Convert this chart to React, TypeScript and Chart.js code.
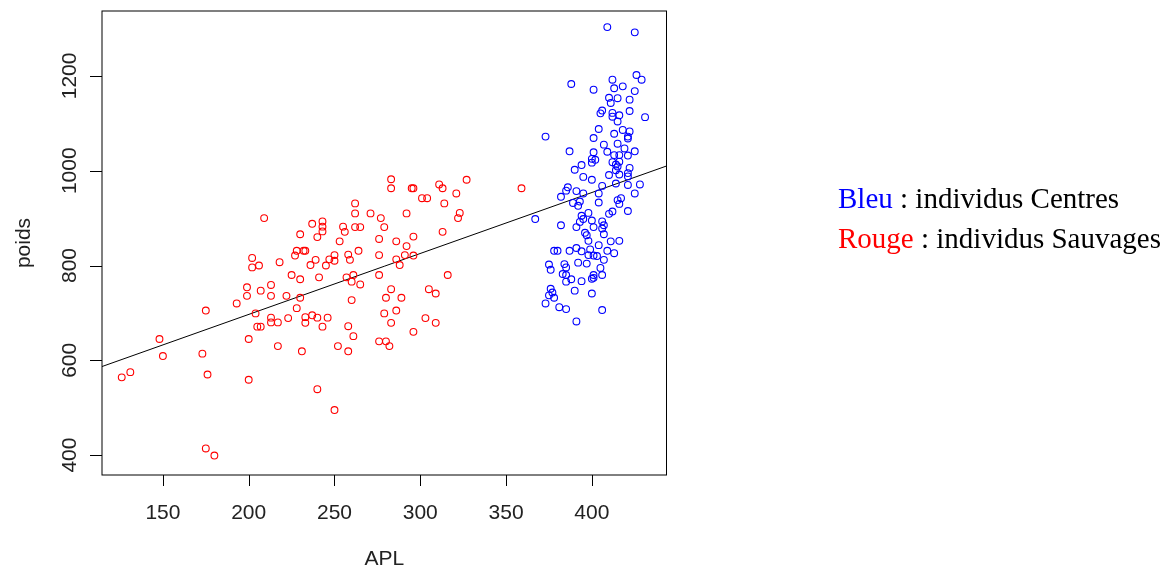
import React, { useEffect, useRef } from "react";
import { Chart, registerables } from "chart.js";

Chart.register(...registerables);

// Rouge : individus Sauvages
const redAPL = [126, 131, 148, 150, 173, 176, 175, 180, 200, 200, 175, 193, 199, 199, 207, 213, 213, 222, 204, 213, 223, 213, 217, 205, 207, 217, 228, 209, 202, 202, 206, 218, 225, 230, 230, 228, 232, 233, 227, 237, 243, 243, 243, 240, 239, 236, 245, 241, 247, 250, 250, 253, 255, 256, 262, 265, 262, 262, 271, 258, 259, 264, 257, 261, 260, 265, 276, 277, 279, 286, 296, 292, 292, 283, 283, 295, 296, 301, 304, 311, 313, 314, 321, 327, 323, 322, 313, 276, 291, 296, 286, 288, 276, 316, 283, 280, 289, 305, 309, 260, 230, 279, 286, 303, 309, 233, 237, 240, 246, 233, 243, 258, 261, 283, 296, 276, 280, 282, 231, 252, 258, 240, 250, 359];
const redPoids = [564, 575, 645, 609, 614, 570, 414, 399, 645, 559, 705, 720, 754, 736, 747, 759, 736, 736, 699, 690, 689, 680, 680, 671, 671, 630, 710, 900, 816, 796, 800, 807, 780, 771, 866, 831, 831, 831, 821, 888, 893, 882, 872, 860, 812, 801, 800, 775, 813, 822, 810, 851, 882, 871, 881, 881, 931, 910, 910, 823, 812, 831, 775, 780, 766, 760, 856, 900, 881, 851, 861, 841, 910, 982, 963, 963, 963, 942, 942, 971, 963, 931, 952, 981, 911, 900, 871, 822, 822, 821, 813, 801, 780, 780, 750, 732, 732, 750, 741, 727, 732, 699, 705, 689, 679, 691, 695, 690, 690, 679, 671, 672, 651, 679, 660, 640, 640, 630, 619, 630, 619, 539, 495, 963];

// Bleu : individus Centres
const blueAPL = [409, 425, 388, 401, 412, 413, 418, 426, 429, 425, 410, 415, 411, 422, 422, 406, 405, 412, 412, 416, 415, 431, 404, 401, 413, 418, 422, 421, 421, 373, 407, 415, 419, 425, 387, 401, 409, 413, 416, 421, 400, 402, 400, 412, 416, 414, 415, 394, 390, 422, 410, 416, 421, 421, 414, 395, 400, 414, 421, 428, 406, 386, 385, 391, 395, 382, 404, 425, 393, 389, 392, 404, 415, 417, 416, 421, 412, 410, 398, 394, 395, 393, 400, 406, 407, 406, 382, 391, 401, 396, 397, 398, 407, 416, 411, 404, 391, 378, 380, 387, 394, 399, 409, 413, 398, 401, 403, 407, 375, 376, 384, 385, 392, 397, 405, 383, 385, 385, 388, 394, 401, 401, 400, 406, 376, 377, 375, 378, 373, 390, 400, 381, 385, 406, 391, 367];
const bluePoids = [1303, 1292, 1183, 1171, 1192, 1174, 1178, 1202, 1192, 1168, 1154, 1153, 1143, 1150, 1126, 1127, 1121, 1122, 1114, 1117, 1104, 1113, 1088, 1069, 1078, 1086, 1083, 1072, 1068, 1072, 1055, 1057, 1047, 1041, 1041, 1039, 1040, 1033, 1033, 1032, 1025, 1023, 1017, 1018, 1019, 1013, 1009, 1012, 1002, 1006, 991, 992, 995, 988, 1001, 987, 981, 973, 970, 971, 968, 965, 958, 957, 952, 945, 952, 952, 935, 932, 926, 933, 938, 942, 930, 915, 914, 909, 911, 905, 898, 892, 895, 893, 885, 878, 885, 881, 881, 869, 864, 852, 866, 852, 851, 843, 837, 831, 831, 831, 830, 834, 831, 826, 822, 821, 820, 812, 802, 791, 803, 796, 806, 804, 795, 782, 780, 766, 771, 767, 780, 774, 772, 780, 751, 743, 737, 732, 720, 747, 741, 712, 708, 706, 682, 898];

const xTicks = [150, 200, 250, 300, 350, 400];
const yTicks = [400, 600, 800, 1000, 1200];
const xRange = [114.5, 443.5];
const yRange = [358, 1337];
const lineIntercept = 439.6;
const lineSlope = 1.286;
const xTitle = "APL";
const yTitle = "poids";

const axesPlugin = {
  id: "rAxes",
  afterDraw(chart: any) {
    const { ctx, chartArea } = chart;
    const xs = chart.scales.x;
    const ys = chart.scales.y;
    const { left, right, top, bottom } = chartArea;
    ctx.save();
    ctx.strokeStyle = "#000";
    ctx.lineWidth = 1;
    ctx.strokeRect(left, top, right - left, bottom - top);
    ctx.fillStyle = "#222";
    ctx.font = '21px "Liberation Sans", Arial, sans-serif';
    // x ticks
    ctx.beginPath();
    xTicks.forEach((v) => {
      const px = Math.round(xs.getPixelForValue(v)) + 0.5;
      ctx.moveTo(px, bottom);
      ctx.lineTo(px, bottom + 11);
    });
    const yb = Math.round(bottom) + 0.5;
    ctx.stroke();
    ctx.textAlign = "center";
    ctx.textBaseline = "alphabetic";
    xTicks.forEach((v) => {
      ctx.fillText(String(v), xs.getPixelForValue(v), 519);
    });
    // y ticks
    ctx.beginPath();
    yTicks.forEach((v) => {
      const py = Math.round(ys.getPixelForValue(v)) + 0.5;
      ctx.moveTo(left, py);
      ctx.lineTo(left - 12, py);
    });
    ctx.stroke();
    yTicks.forEach((v) => {
      ctx.save();
      ctx.translate(76, ys.getPixelForValue(v));
      ctx.rotate(-Math.PI / 2);
      ctx.textAlign = "center";
      ctx.fillText(String(v), 0, 0);
      ctx.restore();
    });
    // titles
    ctx.textAlign = "center";
    ctx.fillText(xTitle, (left + right) / 2, 565);
    ctx.save();
    ctx.translate(30, (top + bottom) / 2);
    ctx.rotate(-Math.PI / 2);
    ctx.fillText(yTitle, 0, 0);
    ctx.restore();
    ctx.restore();
    void yb;
  },
};

function App() {
  const canvasRef = useRef<HTMLCanvasElement | null>(null);

  useEffect(() => {
    const canvas = canvasRef.current;
    if (!canvas) return;
    const toPts = (xa: number[], ya: number[]) => xa.map((x, i) => ({ x, y: ya[i] }));
    const chart = new Chart(canvas, {
      type: "scatter",
      data: {
        datasets: [
          {
            type: "scatter",
            label: "Sauvages",
            data: toPts(redAPL, redPoids),
            borderColor: "#FF0000",
            backgroundColor: "rgba(0,0,0,0)",
            pointRadius: 3.4,
            pointBorderWidth: 1.1,
            pointHoverRadius: 3.4,
          },
          {
            type: "scatter",
            label: "Centres",
            data: toPts(blueAPL, bluePoids),
            borderColor: "#0000FF",
            backgroundColor: "rgba(0,0,0,0)",
            pointRadius: 3.4,
            pointBorderWidth: 1.1,
            pointHoverRadius: 3.4,
          },
          {
            type: "line",
            label: "abline",
            data: [
              { x: xRange[0], y: lineIntercept + lineSlope * xRange[0] },
              { x: xRange[1], y: lineIntercept + lineSlope * xRange[1] },
            ],
            borderColor: "#000",
            borderWidth: 1,
            pointRadius: 0,
            fill: false,
          } as any,
        ],
      },
      options: {
        responsive: false,
        animation: false,
        devicePixelRatio: 1,
        layout: { padding: { left: 102, top: 11, right: 1174 - 666.5, bottom: 571 - 475 } },
        plugins: { legend: { display: false }, tooltip: { enabled: false } },
        scales: {
          x: { type: "linear", min: xRange[0], max: xRange[1], display: false },
          y: { type: "linear", min: yRange[0], max: yRange[1], display: false },
        },
      },
      plugins: [axesPlugin],
    });
    return () => chart.destroy();
  }, []);

  const legendStyle: React.CSSProperties = {
    position: "absolute",
    left: 838,
    fontFamily: '"Liberation Serif", "Times New Roman", serif',
    fontSize: 29,
    lineHeight: "29px",
    whiteSpace: "nowrap",
    color: "#000",
  };

  return (
    <div style={{ position: "absolute", left: 0, top: 0, width: 1174, height: 571, background: "#fff" }}>
      <canvas ref={canvasRef} width={1174} height={571} style={{ display: "block" }} />
      <div style={{ ...legendStyle, top: 184 }}>
        <span style={{ color: "#0000FF" }}>Bleu</span> : individus Centres
      </div>
      <div style={{ ...legendStyle, top: 224 }}>
        <span style={{ color: "#FF0000" }}>Rouge</span> : individus Sauvages
      </div>
    </div>
  );
}

export default App;
